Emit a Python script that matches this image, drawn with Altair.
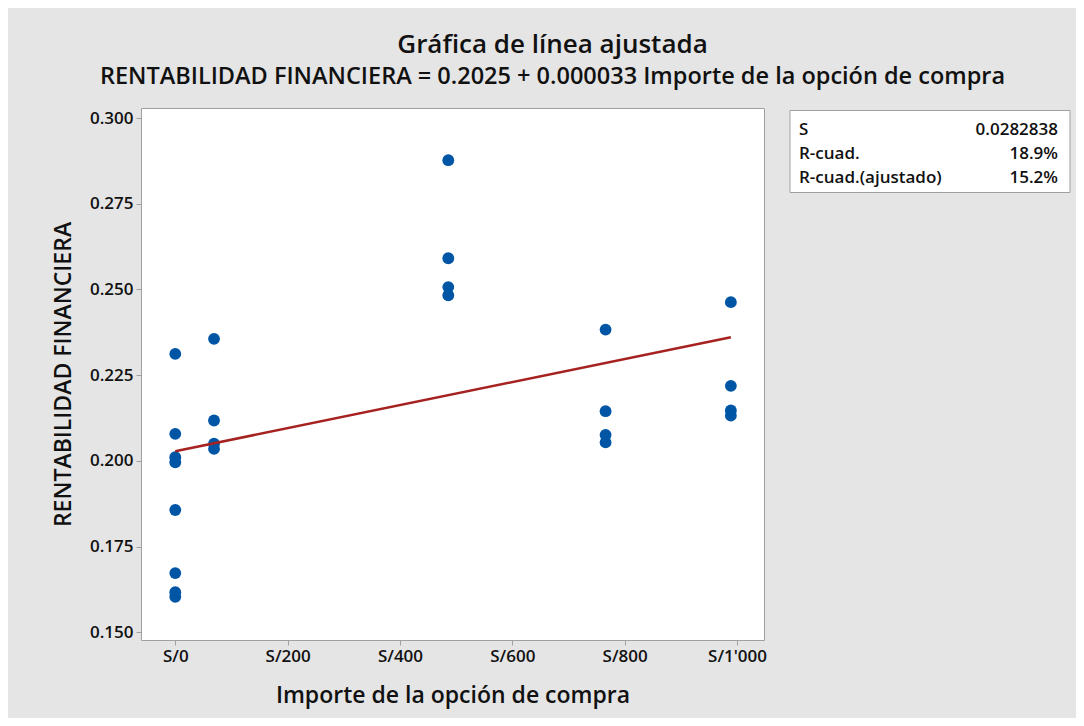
import altair as alt
import pandas as pd

# ---- data ----
importe = [0, 0, 0, 0, 0, 0, 0, 0,
           69, 69, 69, 69,
           486, 486, 486, 486,
           766, 766, 766, 766,
           989, 989, 989, 989]
rentab = [0.2312, 0.2079, 0.2011, 0.1996, 0.1857, 0.1673, 0.1617, 0.1604,
          0.2356, 0.2118, 0.2050, 0.2035,
          0.2877, 0.2591, 0.2507, 0.2483,
          0.2383, 0.2145, 0.2076, 0.2054,
          0.2463, 0.2219, 0.2147, 0.2132]
x_ticks = [0, 200, 400, 600, 800, 1000]
x_tick_labels = ["S/0", "S/200", "S/400", "S/600", "S/800", "S/1'000"]
y_ticks = [0.150, 0.175, 0.200, 0.225, 0.250, 0.275, 0.300]
stats_labels = ["S", "R-cuad.", "R-cuad.(ajustado)"]
stats_values = ["0.0282838", "18.9%", "15.2%"]
title_text = "Gráfica de línea ajustada"
subtitle_text = "RENTABILIDAD FINANCIERA = 0.2025 + 0.000033 Importe de la opción de compra"
x_title = "Importe de la opción de compra"
y_title = "RENTABILIDAD FINANCIERA"

FONT = "Open Sans"
BG = "#e5e5e5"
FRAME = "#a0a0a0"
PT = "#0055a5"
LINE = "#a52220"
TXT = "#111111"
W = 600

df = pd.DataFrame({"importe": importe, "rentab": rentab})
stats_df = pd.DataFrame({"lab": stats_labels, "val": stats_values, "row": list(range(len(stats_labels)))})
box_df = pd.DataFrame({"k": [0]})

label_expr = " : ".join(
    f"datum.value == {v} ? \"{l}\"" for v, l in zip(x_ticks, x_tick_labels)
) + " : ''"

x_enc = alt.X("importe:Q",
              scale=alt.Scale(domain=[-61, 1048], nice=False, zero=False),
              axis=alt.Axis(values=x_ticks, labelExpr=label_expr, title=x_title,
                            titleY=62, titleBaseline="alphabetic"))
y_enc = alt.Y("rentab:Q",
              scale=alt.Scale(domain=[0.14778, 0.30292], nice=False, zero=False),
              axis=alt.Axis(values=y_ticks, format=".3f", title=y_title,
                            titleX=-71, titleBaseline="alphabetic"))

points = alt.Chart(df).mark_circle(size=140, color=PT, opacity=1).encode(x=x_enc, y=y_enc)

fit = alt.Chart(df).transform_regression("importe", "rentab").mark_line(
    color=LINE, strokeWidth=2.5).encode(x="importe:Q", y="rentab:Q")

box = alt.Chart(box_df).mark_rect(fill="white", stroke=FRAME, strokeWidth=1).encode(
    x=alt.value(649), x2=alt.value(929), y=alt.value(2.5), y2=alt.value(84.5))

stat_base = alt.Chart(stats_df).transform_calculate(ypos="26.5 + 24 * datum.row")
stat_lab = stat_base.mark_text(align="left", baseline="alphabetic", font=FONT,
                               fontSize=17, fontWeight=W, color=TXT).encode(
    x=alt.value(658), y=alt.Y("ypos:Q", scale=None), text="lab:N")
stat_val = stat_base.mark_text(align="right", baseline="alphabetic", font=FONT,
                               fontSize=17, fontWeight=W, color=TXT).encode(
    x=alt.value(917), y=alt.Y("ypos:Q", scale=None), text="val:N")

chart = alt.layer(points, fit, box, stat_lab, stat_val).properties(
    width=623, height=532,
    background=BG,
    padding={"left": 133, "top": 100, "right": 312, "bottom": 78},
    autosize=alt.AutoSizeParams(type="none"),
    title=alt.TitleParams(
        text=title_text, subtitle=subtitle_text,
        anchor="middle", frame="group", dx=100,
        font=FONT, fontSize=26, fontWeight=W, color=TXT,
        subtitleFont=FONT, subtitleFontSize=23.5, subtitleFontWeight=W, subtitleColor=TXT,
        subtitlePadding=7, offset=20),
).configure_view(
    stroke=FRAME, strokeWidth=1, fill="white"
).configure_axis(
    domain=False, grid=False,
    tickColor=FRAME, tickSize=5, tickWidth=1,
    labelFont=FONT, labelFontSize=17, labelFontWeight=W, labelColor=TXT, labelPadding=3,
    titleFont=FONT, titleFontSize=23, titleFontWeight=W, titleColor=TXT,
)

chart.save("out.html", embed_options={"renderer": "svg", "actions": False})
